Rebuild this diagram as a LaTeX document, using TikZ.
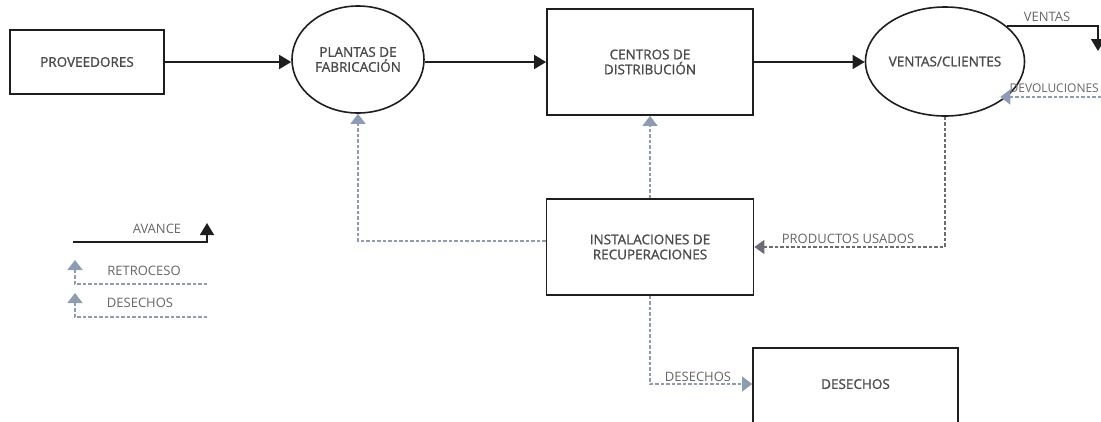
\documentclass[tikz,border=0pt]{standalone}
\usepackage{fontspec}
\setmainfont{Open Sans}
\newfontfamily\boxfont[FakeBold=1.2]{Open Sans}
\usetikzlibrary{arrows.meta,shapes.geometric,calc}

\definecolor{ink}{HTML}{1E1E1E}
\definecolor{boxtext}{HTML}{4A4A4A}
\definecolor{labeltext}{HTML}{666666}
\definecolor{backflow}{HTML}{8E9CB3}
\definecolor{usedflow}{HTML}{6B6B73}

\tikzset{
  process/.style={draw=ink, line width=1.8pt, rectangle, align=center,
    text=boxtext, font=\boxfont\fontsize{13.5}{15}\selectfont, inner sep=0pt},
  stage/.style={draw=ink, line width=1.6pt, ellipse, align=center,
    text=boxtext, font=\boxfont\fontsize{13.5}{15}\selectfont, inner sep=0pt},
  flowlabel/.style={text=labeltext, font=\fontsize{13}{14}\selectfont, inner sep=0pt},
  fwd/.style={draw=ink, line width=1.6pt,
    -{Triangle[length=12pt,width=14pt]}},
  back/.style={draw=backflow, line width=1.4pt, dash pattern=on 3.5pt off 2pt,
    -{Triangle[length=10pt,width=15pt]}},
  used/.style={draw=usedflow, line width=1.4pt, dash pattern=on 3.5pt off 2pt,
    -{Triangle[length=10pt,width=14pt]}},
}

\begin{document}
\begin{tikzpicture}[x=1pt,y=-1pt]
  \useasboundingbox (0,0) rectangle (1101,421);
  \clip (0,0) rectangle (1101,421);

  % main chain
  \node[process, minimum width=154pt, minimum height=64pt] (prov) at (87,62) {PROVEEDORES};
  \node[stage, minimum width=132pt, minimum height=107pt] (plantas) at (358,59.5) {PLANTAS DE\\FABRICACIÓN};
  \node[process, minimum width=206pt, minimum height=106pt] (centros) at (650,62) {CENTROS DE\\DISTRIBUCIÓN};
  \node[stage, minimum width=126pt, minimum height=109pt] (ventas) at (945,61.5) {VENTAS/CLIENTES};
  \node[process, minimum width=207pt, minimum height=96pt] (inst) at (650,247) {INSTALACIONES DE\\RECUPERACIONES};
  % the waste box runs past the lower edge of the page
  \node[process, minimum width=205pt, minimum height=92pt] (desechos) at (855.5,394) {\raisebox{20pt}{DESECHOS}};

  \draw[fwd] (prov.east) -- (prov.east -| plantas.west);
  \draw[fwd] (plantas.east |- centros.west) -- (centros.west);
  \draw[fwd] (centros.east) -- (centros.east -| ventas.west);

  % sales leaving the network
  \coordinate (salesout) at (1098,51);
  \draw[fwd] (ventas.30) -| (salesout);
  \node[flowlabel] (lventas) at (1047,17) {VENTAS};

  % returns coming back in
  \coordinate (retin) at (1101,97);
  \draw[back] (retin) -- (retin -| ventas.-36.6);
  \node[flowlabel, font=\fontsize{12}{14}\selectfont, anchor=east] (ldev) at (1099,88) {DEVOLUCIONES};

  % used products to recovery
  \draw[used] (ventas.south) |- (inst.east);
  \node[flowlabel] (lusados) at (848,239) {PRODUCTOS USADOS};

  % recovery back to earlier stages
  \draw[back] (inst.north) -- (centros.south);
  \draw[back] ($(inst.west)+(0,-6)$) -| (plantas.south);

  % waste
  \draw[back] (inst.south) |- ($(desechos.west)+(0,-10)$);
  \node[flowlabel] (lwaste) at (698,377) {DESECHOS};

  % legend
  \coordinate (avstart) at (73,242);
  \coordinate (avtip) at (207,223);
  \draw[fwd] (avstart) -| (avtip);
  \node[flowlabel] (lav) at (157,229) {AVANCE};

  \coordinate (rtstart) at (207,284);
  \coordinate (rttip) at (75,260);
  \draw[back] (rtstart) -| (rttip);
  \node[flowlabel] (lrt) at (144,271) {RETROCESO};

  \coordinate (dsstart) at (207,317);
  \coordinate (dstip) at (75,293);
  \draw[back] (dsstart) -| (dstip);
  \node[flowlabel] (lds) at (140,303) {DESECHOS};
\end{tikzpicture}
\end{document}
